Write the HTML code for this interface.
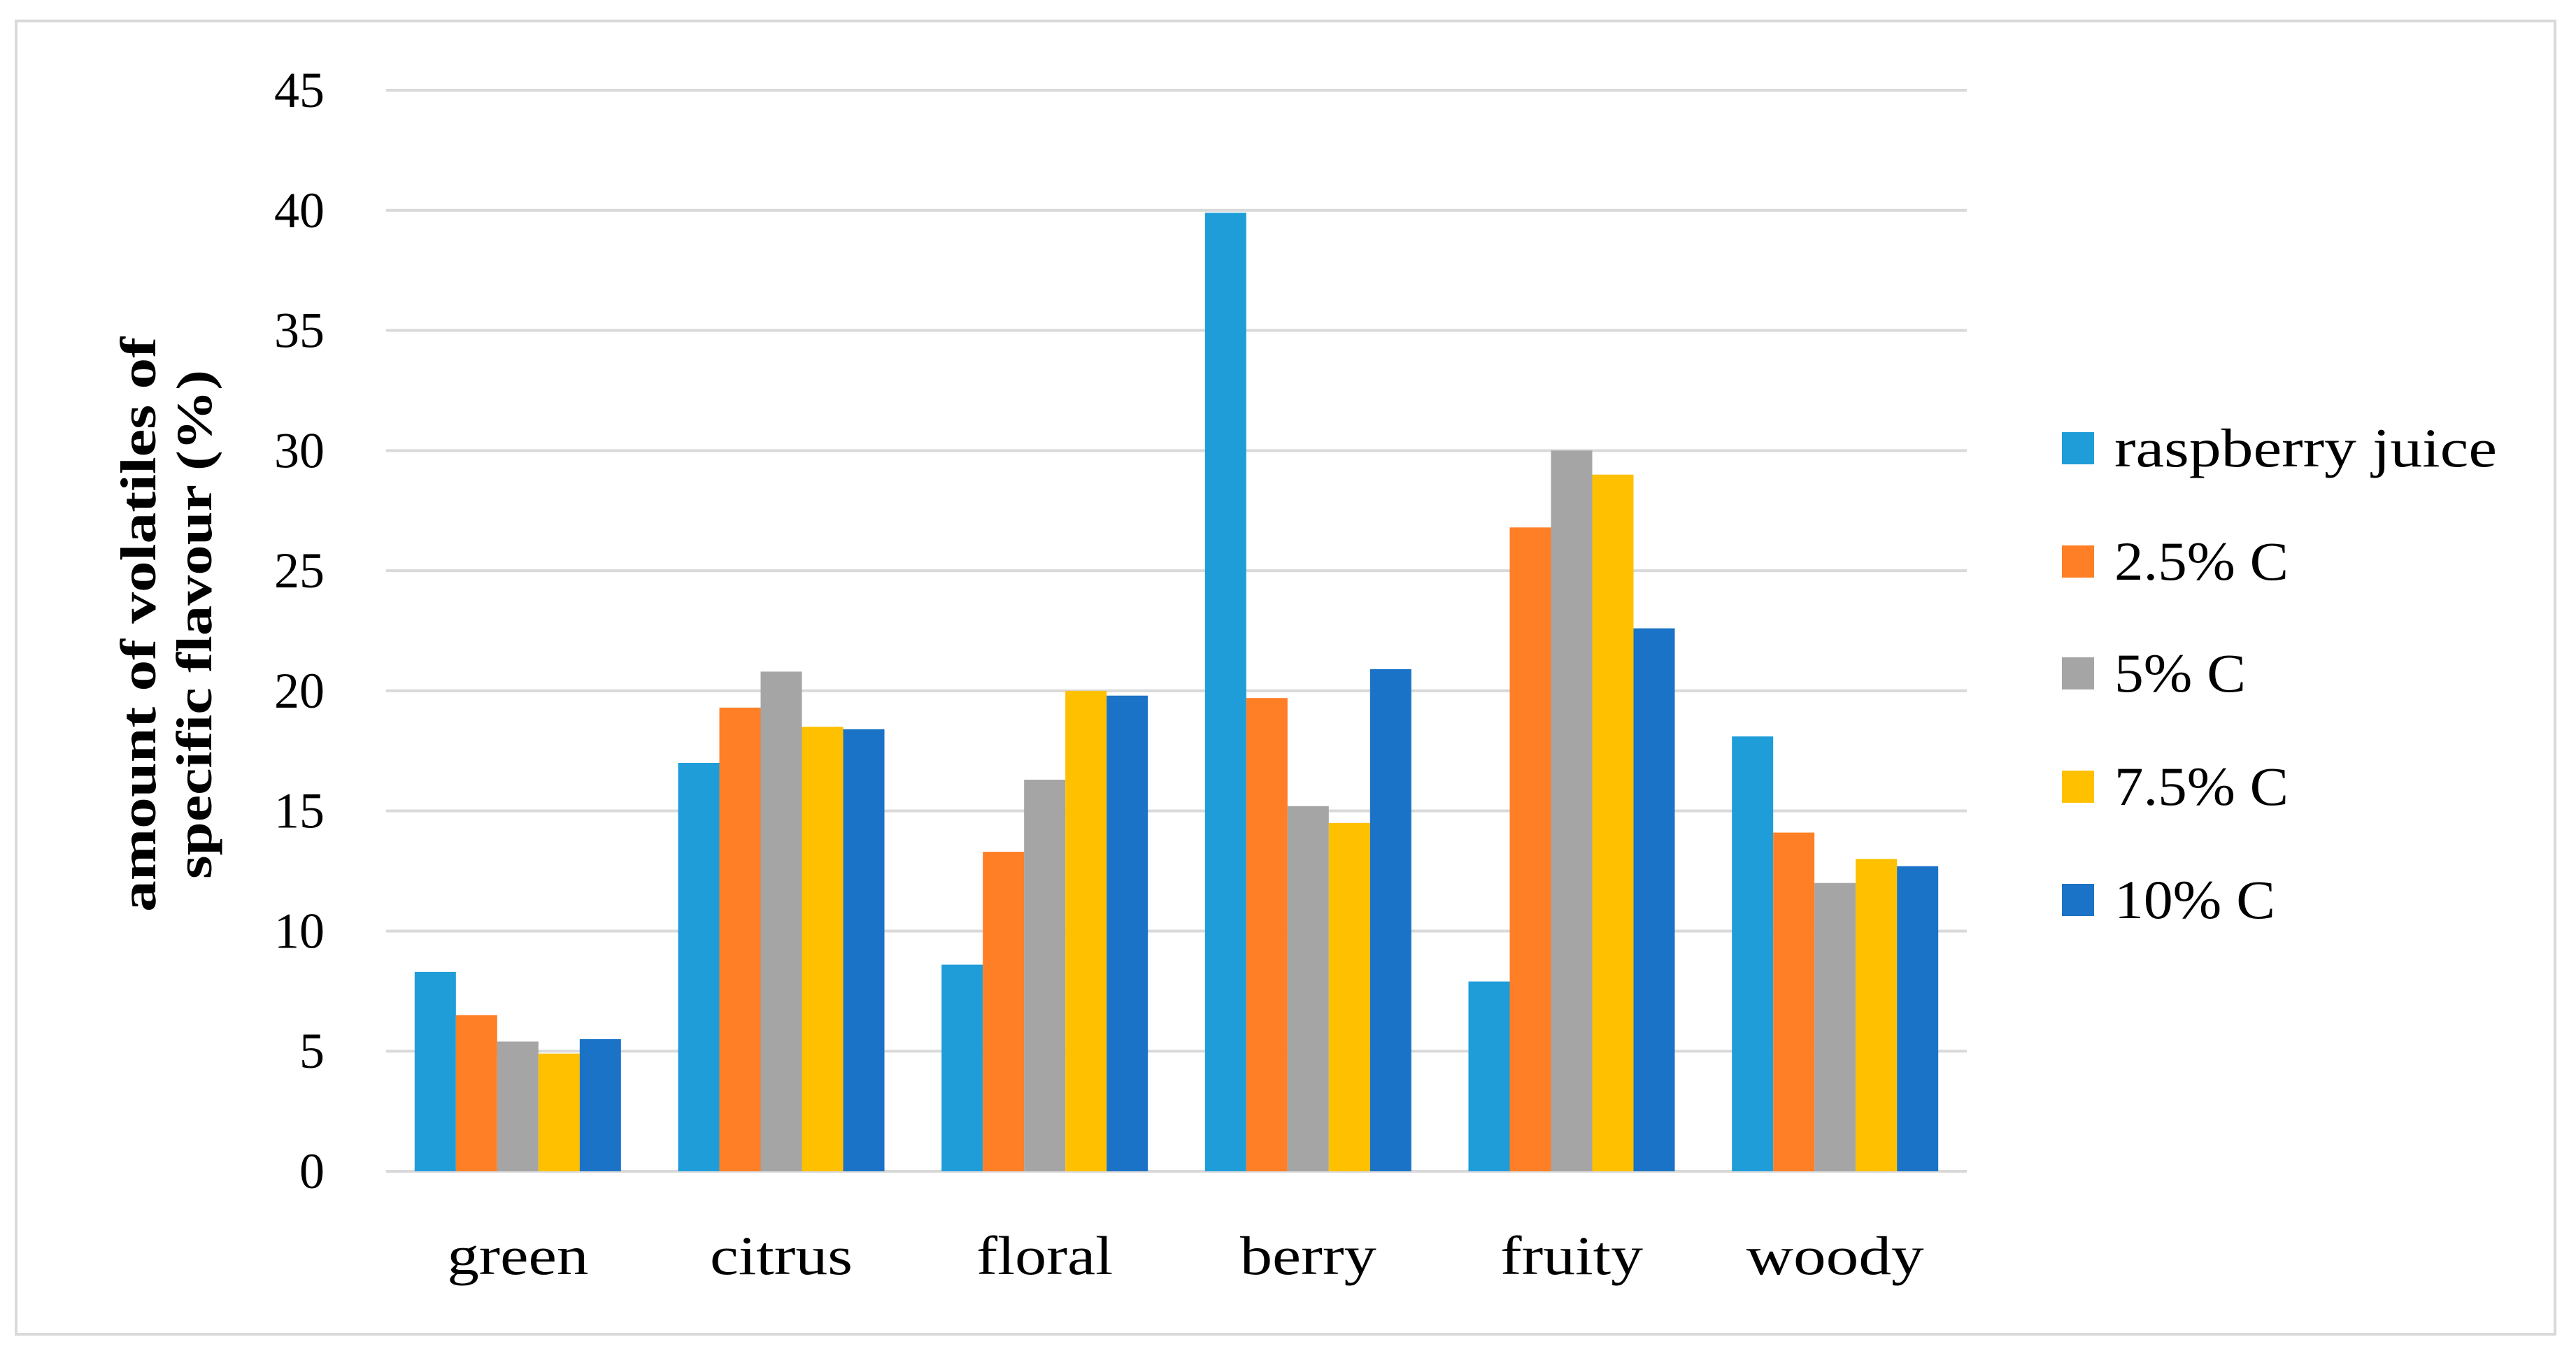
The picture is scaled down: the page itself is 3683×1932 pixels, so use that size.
<!DOCTYPE html>
<html><head><meta charset="utf-8"><style>
html,body{margin:0;padding:0;background:#fff;}
svg{display:block;font-family:"Liberation Serif",serif;}
</style></head><body>
<svg id="chart" width="3683" height="1932" viewBox="0 0 3683 1932">
<rect x="23" y="30" width="3630" height="1878" fill="#fff" stroke="#d9d9d9" stroke-width="4"/>
<g id="grid"></g><g id="bars"></g><g id="axes"></g><g id="legend"></g>
<text transform="translate(222,893) rotate(-90)" text-anchor="middle" font-size="72" font-weight="bold" textLength="822" lengthAdjust="spacingAndGlyphs">amount of volatiles of</text>
<text transform="translate(302,893) rotate(-90)" text-anchor="middle" font-size="72" font-weight="bold" textLength="728" lengthAdjust="spacingAndGlyphs">specific flavour (%)</text>
</svg>
<script>
const categories=["green","citrus","floral","berry","fruity","woody"];
const seriesNames=["raspberry juice","2.5% C","5% C","7.5% C","10% C"];
const raspberry=[8.3,17.0,8.6,39.9,7.9,18.1];
const c25=[6.5,19.3,13.3,19.7,26.8,14.1];
const c5=[5.4,20.8,16.3,15.2,30.0,12.0];
const c75=[4.9,18.5,20.0,14.5,29.0,13.0];
const c10=[5.5,18.4,19.8,20.9,22.6,12.7];
const yTicks=[0,5,10,15,20,25,30,35,40,45];
const series=[raspberry,c25,c5,c75,c10];
const colors=["#1F9DD9","#FF7F27","#A5A5A5","#FFC000","#1A73C6"];
const catLen=[202,204,195,195,204,254];
const legLen=[547,249,188,249,230];
const NS="http://www.w3.org/2000/svg";
const x0=552,x1=2812,y0=1675,y45=129;
const y=v=>y0+(y45-y0)*v/45;
const catW=(x1-x0)/categories.length, barW=59;
function el(t,a,p){const e=document.createElementNS(NS,t);for(const k in a)e.setAttribute(k,a[k]);document.getElementById(p).appendChild(e);return e;}
yTicks.forEach(t=>{
 const l=el("line",{x1:x0,x2:x1,y1:y(t),y2:y(t),stroke:"#d9d9d9","stroke-width":4},"grid");
 
 
 const tx=el("text",{x:464,y:y(t)+24,"text-anchor":"end","font-size":72},"axes");tx.textContent=t;
 
 
});
categories.forEach((c,i)=>{
 const cx=x0+catW*(i+0.5);
 series.forEach((s,j)=>{
  const r=el("rect",{x:cx-2.5*barW+j*barW,y:y(s[i]),width:barW,height:y0-y(s[i]),fill:colors[j]},"bars");
  
  
 });
 const tx=el("text",{x:cx,y:1822,"text-anchor":"middle","font-size":78,textLength:catLen[i],lengthAdjust:"spacingAndGlyphs"},"axes");tx.textContent=c;
 
 
});
const ly=[641,803,963,1125,1287];
seriesNames.forEach((n,j)=>{
 const r=el("rect",{x:2948,y:ly[j]-23,width:46,height:46,fill:colors[j]},"legend");
 
 
 const t=el("text",{x:3023,y:ly[j]+26,"font-size":78,textLength:legLen[j],lengthAdjust:"spacingAndGlyphs"},"legend");t.textContent=n;
 
 
});
</script>
</body></html>
